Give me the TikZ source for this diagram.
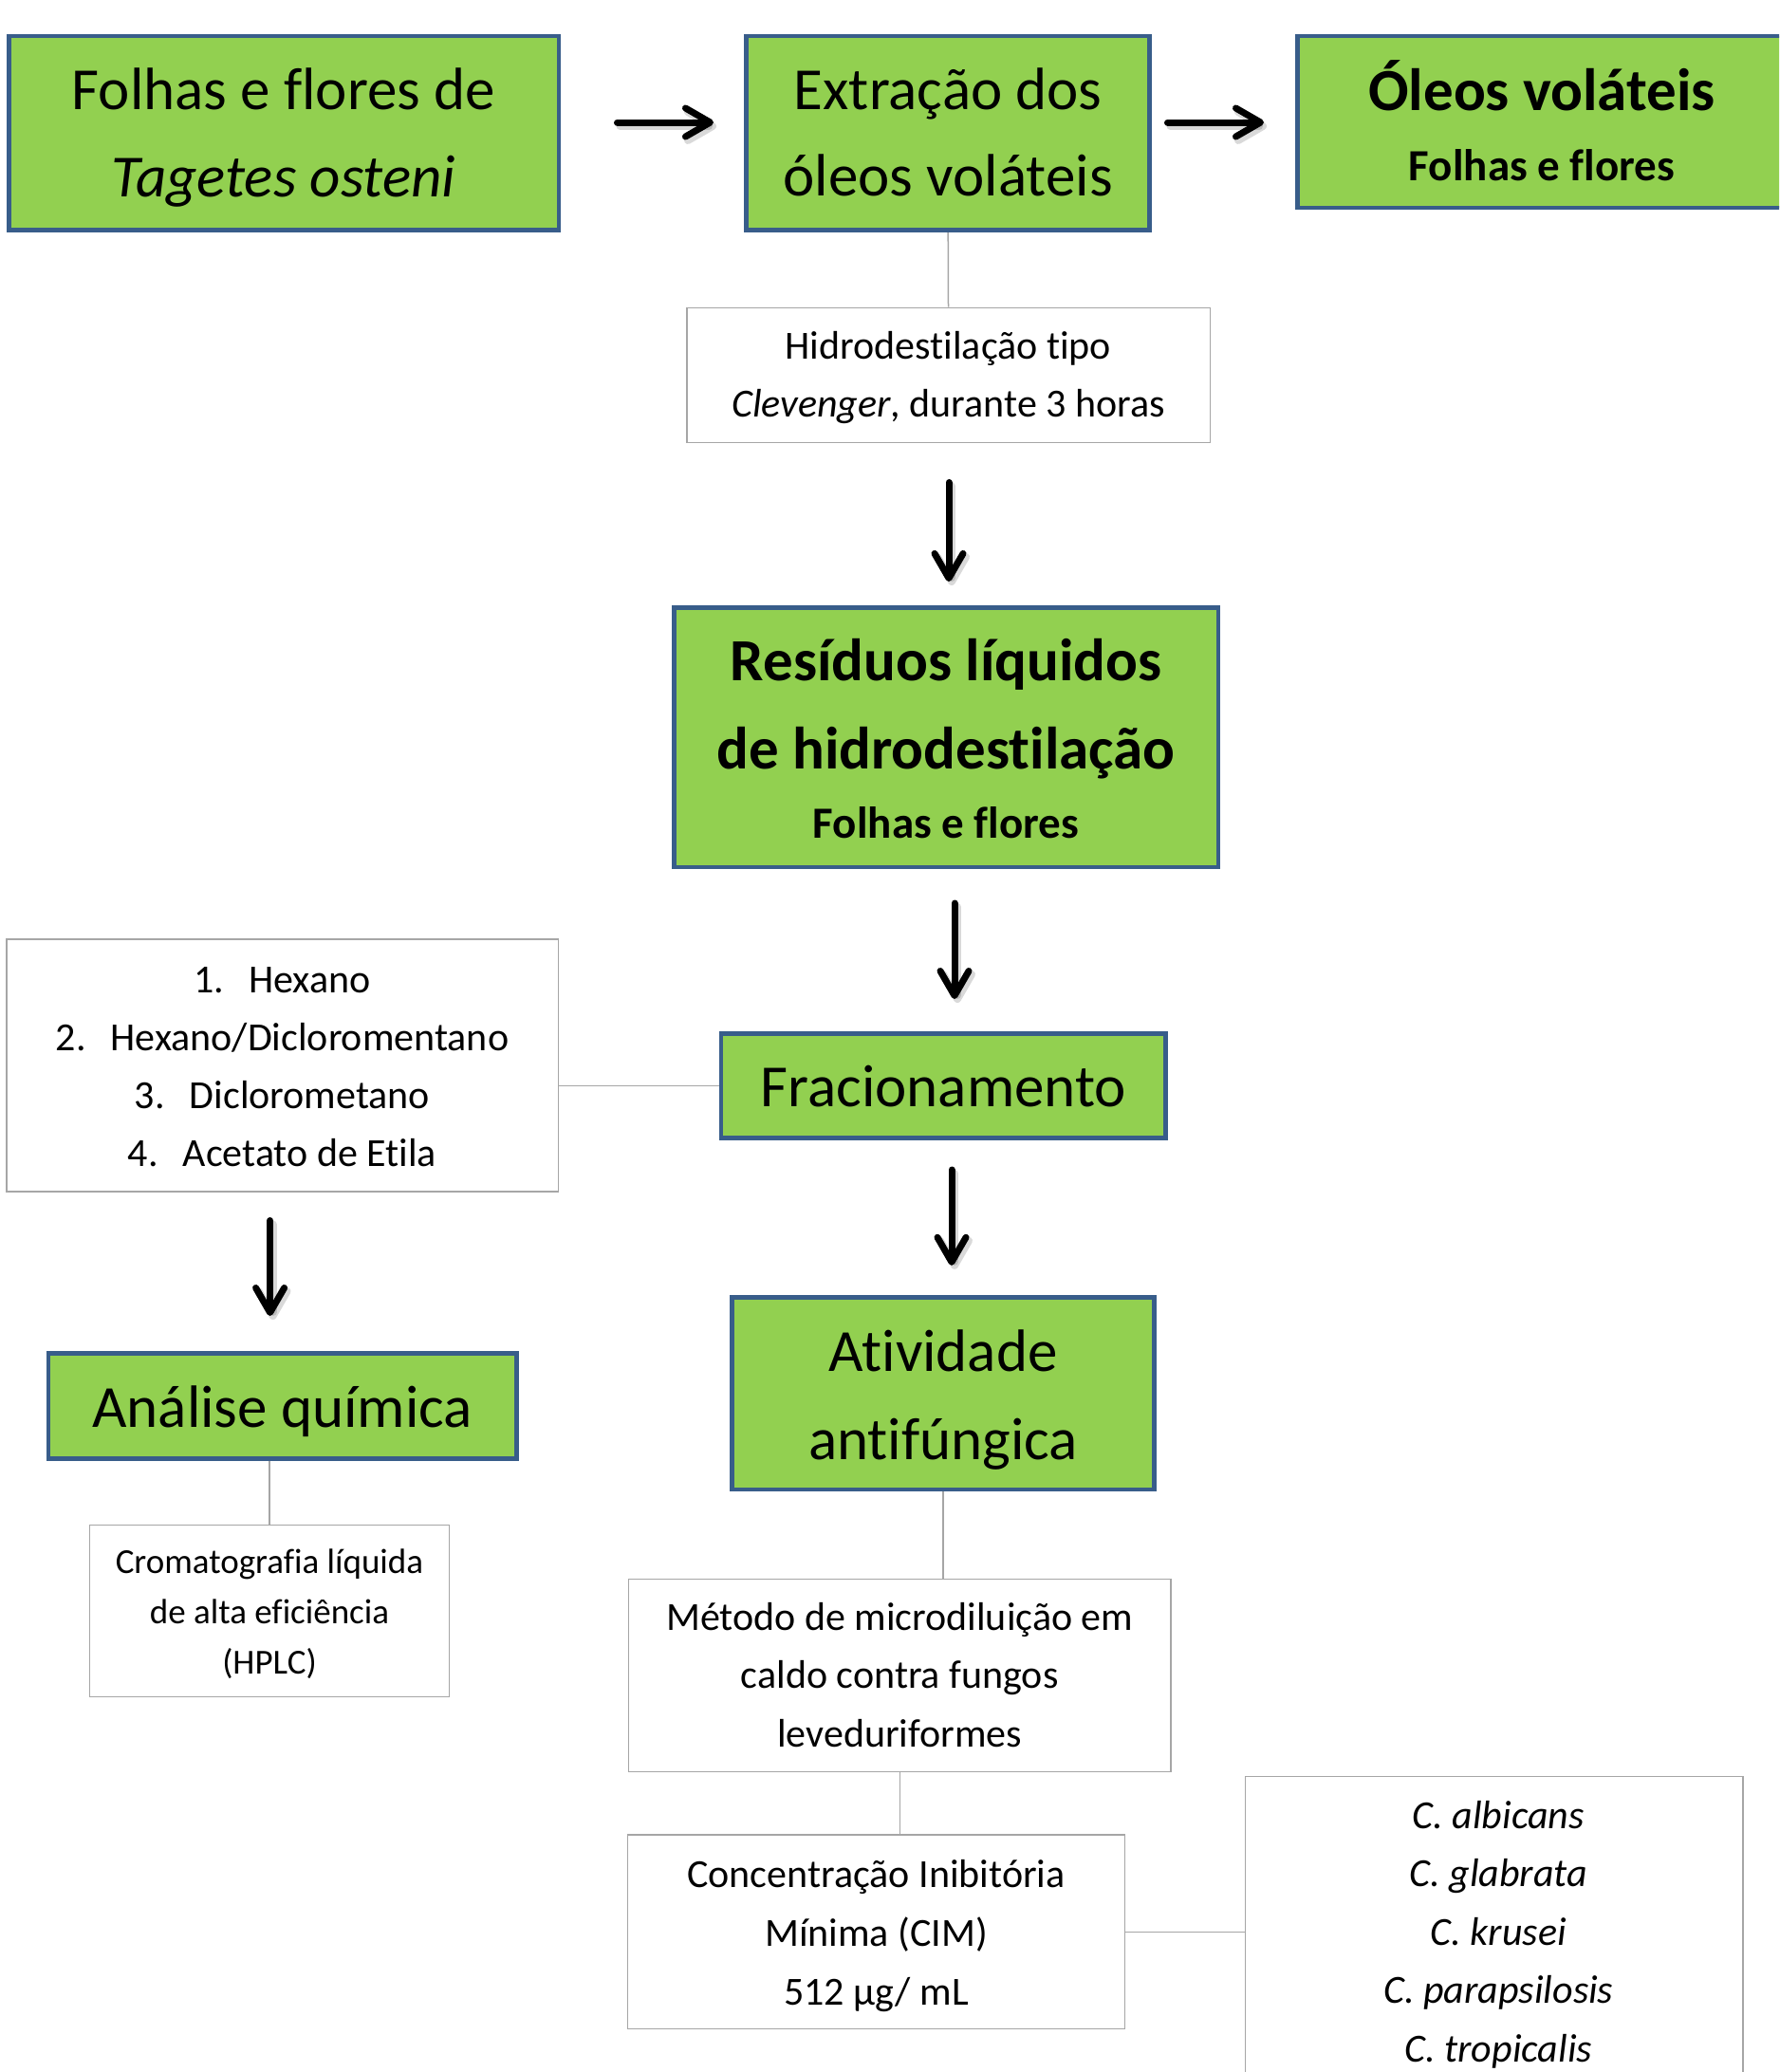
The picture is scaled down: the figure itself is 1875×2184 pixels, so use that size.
\documentclass[tikz,border=0pt]{standalone}
\usepackage{fontspec}
\setmainfont{Carlito}[Ligatures=NoCommon]
\usetikzlibrary{arrows.meta}
\definecolor{gfill}{RGB}{146,208,80}
\definecolor{bline}{RGB}{56,93,138}
\definecolor{gline}{RGB}{166,166,166}
\pgfdeclarelayer{back}
\pgfsetlayers{back,main}
\newcommand\topr[2]{\rule{0pt}{\dimexpr#1pt+#2pt\relax}}
\newcommand\botr[2]{\rule[\dimexpr-#1pt+#2pt\relax]{0pt}{\dimexpr#1pt-#2pt\relax}}
\newcommand\arrowpair[2]{%
  \draw[arrowshadow] ([shift={(3,4)}]#1) -- ([shift={(3,4)}]#2);
  \draw[arrowline] (#1) -- (#2);}
\begin{document}
\begin{tikzpicture}[x=1pt,y=-1pt,
  greenbox/.style={draw=bline, line width=4.5pt, fill=gfill, inner sep=0pt, align=center, text=black},
  graybox/.style={draw=gline, line width=1.5pt, fill=white, inner sep=0pt, align=center, text=black},
  conn/.style={draw=gline, line width=1.5pt},
  arrowline/.style={draw=black, line width=7pt, line cap=round, -{Straight Barb[length=26pt,width=30pt,round]}},
  arrowshadow/.style={draw=black, opacity=0.15, line width=8pt, line cap=round, -{Straight Barb[length=26pt,width=30pt,round]}}
]
\useasboundingbox (0,0) rectangle (1875,2184);
\clip (0,0) rectangle (1875,2184);

% green boxes
\node[greenbox, minimum width=579.5pt, minimum height=204.5pt, font=\fontsize{63}{92}\selectfont] (b1) at (299,140.3)
  {\topr{40}{21.5}Folhas e flores de\\\textit{Tagetes osteni}\botr{40}{21.5}};
\node[greenbox, minimum width=425pt, minimum height=204.5pt, font=\fontsize{63}{91}\selectfont] (b2) at (999.2,140.3)
  {\topr{40}{21}Extração dos\\óleos voláteis\botr{40}{21}};
\node[greenbox, minimum width=515.5pt, minimum height=181pt, font=\bfseries\fontsize{47}{74}\selectfont] (b3) at (1625,128.7)
  {\topr{42}{24.5}{\fontsize{63}{74}\selectfont Óleos voláteis}\\Folhas e flores\botr{42}{24.5}};
\node[greenbox, minimum width=573.5pt, minimum height=273.5pt, font=\bfseries\fontsize{47}{73}\selectfont] (res) at (997,777)
  {\topr{40}{23}{\fontsize{63}{73}\selectfont Resíduos líquidos}\\[20pt]{\fontsize{63}{73}\selectfont de hidrodestilação}\\Folhas e flores\botr{40}{23}};
\node[greenbox, minimum width=468.6pt, minimum height=110pt, font=\fontsize{63}{92}\selectfont] (frac) at (994.3,1144.25)
  {\topr{40}{22.5}Fracionamento\botr{40}{22.5}};
\node[greenbox, minimum width=445pt, minimum height=202.5pt, font=\fontsize{63}{93}\selectfont] (ativ) at (994.1,1468.5)
  {\topr{40}{23.6}Atividade\\antifúngica\botr{40}{23.6}};
\node[greenbox, minimum width=493.7pt, minimum height=110.7pt, font=\fontsize{63}{92}\selectfont] (ana) at (297.7,1482)
  {\topr{40}{22.7}Análise química\botr{40}{22.7}};

% gray boxes
\node[graybox, minimum width=551.5pt, minimum height=142.4pt, font=\fontsize{42}{61}\selectfont] (hid) at (999.5,395.5)
  {\topr{30}{13}Hidrodestilação tipo\\\textit{Clevenger}, durante 3 horas\botr{30}{13}};
\node[graybox, minimum width=581.5pt, minimum height=266pt, font=\fontsize{42}{61.1}\selectfont] (lst) at (297.5,1123.2)
  {\topr{30}{14.5}1.\hspace{26pt}Hexano\\2.\hspace{26pt}Hexano/Dicloromentano\\3.\hspace{26pt}Diclorometano\\4.\hspace{26pt}Acetato de Etila\botr{30}{14.5}};
\node[graybox, minimum width=379pt, minimum height=181pt, font=\fontsize{37}{53.3}\selectfont] (crom) at (284,1698.1)
  {\topr{28}{13.25}Cromatografia líquida\\de alta eficiência\\(HPLC)\botr{28}{13.25}};
\node[graybox, minimum width=571.6pt, minimum height=203.3pt, font=\fontsize{42}{61.5}\selectfont] (met) at (948.25,1765.9)
  {\topr{30}{13.9}Método de microdiluição em\\caldo contra fungos\\leveduriformes\botr{30}{13.9}};
\node[graybox, minimum width=523.8pt, minimum height=204.6pt, font=\fontsize{42}{62}\selectfont] (cim) at (923.55,2036.35)
  {\topr{30}{14.65}Concentração Inibitória\\Mínima (CIM)\\512 µg/ mL\botr{30}{14.65}};
\node[graybox, minimum width=524.6pt, minimum height=328.2pt, font=\itshape\fontsize{42}{61.5}\selectfont] (cand) at (1574.85,2036.35)
  {\topr{30}{14}\hspace{9pt}C. albicans\\\hspace{9pt}C. glabrata\\\hspace{9pt}C. krusei\\\hspace{9pt}C. parapsilosis\\\hspace{9pt}C. tropicalis\botr{30}{14}};

% gray connectors
\begin{pgfonlayer}{back}
\draw[conn] (b2.south) -- (hid.north);
\draw[conn] (frac.west) -- (frac.west -| lst.east);
\draw[conn] (crom.north |- ana.south) -- (crom.north);
\draw[conn] (ativ.south) -- (ativ.south |- met.north);
\draw[conn] (met.south) -- (met.south |- cim.north);
\draw[conn] (cim.east) -- (cim.east -| cand.west);
\end{pgfonlayer}

% arrows
\coordinate (a1s) at (650.5,129);
\coordinate (a1e) at (752,129);
\coordinate (a2s) at (1230.5,129);
\coordinate (a2e) at (1332,129);
\coordinate (a3s) at (1000,508.5);
\coordinate (a3e) at (1000,613);
\coordinate (a4s) at (1006,952);
\coordinate (a4e) at (1006,1053);
\coordinate (a5s) at (1003,1233);
\coordinate (a5e) at (1003,1333.8);
\coordinate (a6s) at (284.6,1286.5);
\coordinate (a6e) at (284.6,1387);
\arrowpair{a1s}{a1e}
\arrowpair{a2s}{a2e}
\arrowpair{a3s}{a3e}
\arrowpair{a4s}{a4e}
\arrowpair{a5s}{a5e}
\arrowpair{a6s}{a6e}
\end{tikzpicture}
\end{document}
